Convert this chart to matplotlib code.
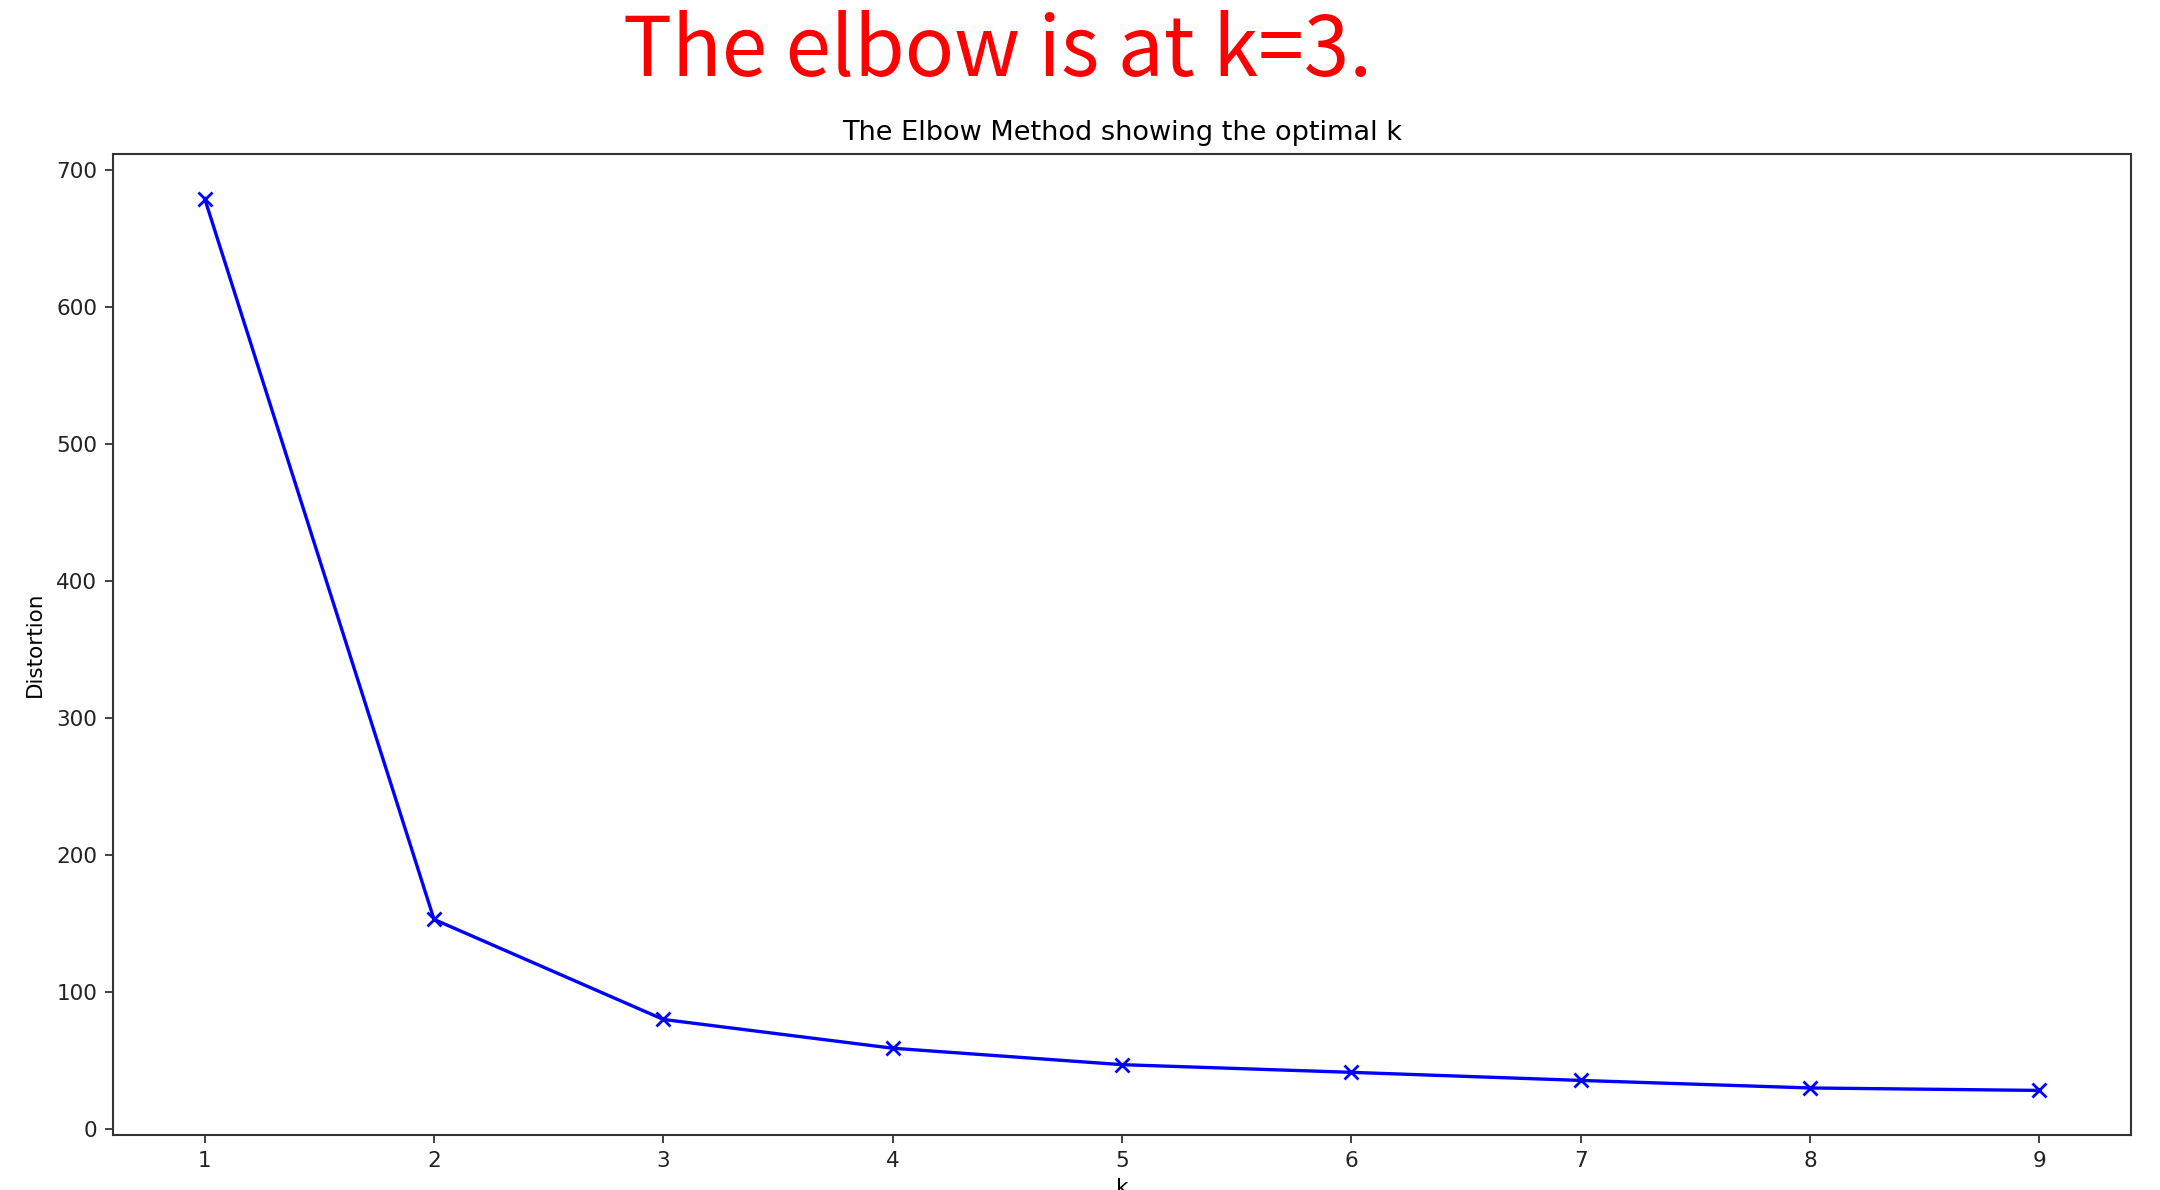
import matplotlib
matplotlib.use("Agg")
import matplotlib.pyplot as plt

k_values = [1, 2, 3, 4, 5, 6, 7, 8, 9]
distortions = [679, 153, 80, 59, 47, 41.4, 35.5, 30, 28.2]
y_ticks = [0, 100, 200, 300, 400, 500, 600, 700]

fig = plt.figure(figsize=(21.6, 11.9), dpi=100)
ax = fig.add_axes([0.0523, 0.0462, 0.9343, 0.8244])

ax.plot(k_values, distortions, 'bx-', linewidth=2.4, markersize=10, markeredgewidth=2.0)
ax.set_xticks(k_values)
ax.set_yticks(y_ticks)
ax.tick_params(labelsize=15.5, length=5.7, width=1.2, pad=5.5, colors='#222222')
for s in ax.spines.values():
    s.set_linewidth(1.5)
    s.set_color('#333333')
ax.set_xlabel('k', fontsize=15.5, labelpad=5)
ax.set_ylabel('Distortion', fontsize=15.5, labelpad=8)
ax.set_title('The Elbow Method showing the optimal k', fontsize=19.5, pad=10)

fig.text(0.462, 0.936, 'The elbow is at k=3.', color='#ff0000', fontsize=59,
         fontweight='medium', ha='center', va='baseline',
         family=['Noto Sans CJK KR', 'DejaVu Sans'])

fig.savefig('out.png', dpi=100)
